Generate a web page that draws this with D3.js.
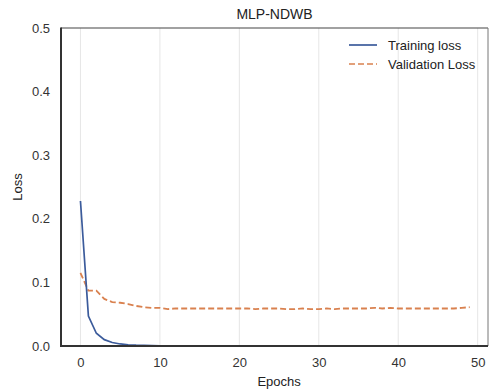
<!DOCTYPE html>
<html><head><meta charset="utf-8">
<script src="https://cdn.jsdelivr.net/npm/d3@7"></script>
<style>body{margin:0;background:#fff}svg{display:block}</style>
</head><body>
<svg id="c" width="490" height="391"></svg>
<script>
const epochs = d3.range(0, 50);
const trainingLoss = [0.228,0.047,0.020,0.010,0.0055,0.0032,0.0020,0.0013,0.0009,0.0006,0.0004,0.0003,0.0002,0.00015,0.0001,
  0.0001,0.0001,0.0001,0.0001,0.0001,0.0001,0.0001,0.0001,0.0001,0.0001,0.0001,0.0001,0.0001,0.0001,0.0001,
  0.0001,0.0001,0.0001,0.0001,0.0001,0.0001,0.0001,0.0001,0.0001,0.0001,0.0001,0.0001,0.0001,0.0001,0.0001,
  0.0001,0.0001,0.0001,0.0001,0.0001];
const validationLoss = [0.115,0.087,0.087,0.074,0.069,0.068,0.066,0.063,0.061,0.060,0.060,0.058,0.059,0.059,0.059,
  0.059,0.059,0.059,0.059,0.059,0.059,0.059,0.058,0.059,0.059,0.059,0.058,0.058,0.059,0.058,
  0.058,0.059,0.058,0.059,0.059,0.059,0.059,0.060,0.059,0.060,0.059,0.059,0.059,0.059,0.059,
  0.059,0.059,0.059,0.060,0.061];
const xTicks = [0,10,20,30,40,50];
const yTicks = [0.0,0.1,0.2,0.3,0.4,0.5];
const seriesNames = ["Training loss","Validation Loss"];
const seriesColors = ["#3b5b9b","#d9814f"];

const svg = d3.select("#c");
const L=61, R=488, T=28, B=346;
const x = d3.scaleLinear().domain([-2.45, 51.3]).range([L, R]);
const y = d3.scaleLinear().domain([0, 0.5]).range([B, T]);
const font = "Liberation Sans, Arial, sans-serif";

svg.append("g").selectAll("line").data(xTicks).join("line")
  .attr("x1", d=>x(d)).attr("x2", d=>x(d)).attr("y1", T).attr("y2", B)
  .attr("stroke", "#e6e6e6").attr("stroke-width", 1);

const line = d3.line().x((d,i)=>x(epochs[i])).y(d=>y(d));
svg.append("path").datum(validationLoss).attr("d", line)
  .attr("fill","none").attr("stroke", seriesColors[1]).attr("stroke-width", 1.8)
  .attr("stroke-dasharray","6,3");
svg.append("path").datum(trainingLoss).attr("d", line)
  .attr("fill","none").attr("stroke", seriesColors[0]).attr("stroke-width", 1.7);

svg.append("line").attr("x1",L).attr("x2",R).attr("y1",T).attr("y2",T).attr("stroke","#444").attr("stroke-width",1.2);
svg.append("line").attr("x1",R).attr("x2",R).attr("y1",T).attr("y2",B).attr("stroke","#777").attr("stroke-width",1);
svg.append("line").attr("x1",L).attr("x2",L).attr("y1",T-0.6).attr("y2",B+1).attr("stroke","#333").attr("stroke-width",2);
svg.append("line").attr("x1",L-1).attr("x2",R).attr("y1",B).attr("y2",B).attr("stroke","#333").attr("stroke-width",2);

const xa = svg.append("g").attr("transform",`translate(0,${B})`)
  .call(d3.axisBottom(x).tickValues(xTicks).tickSize(0).tickPadding(12).tickFormat(d3.format("d")));
xa.select(".domain").remove();
xa.selectAll("text").attr("font-family",font).attr("font-size",13).attr("fill","#333");
const ya = svg.append("g").attr("transform",`translate(${L},0)`)
  .call(d3.axisLeft(y).tickValues(yTicks).tickSize(0).tickPadding(11).tickFormat(d3.format(".1f")));
ya.select(".domain").remove();
ya.selectAll("text").attr("font-family",font).attr("font-size",13).attr("fill","#333");

svg.append("text").attr("x",(L+R)/2).attr("y",19).attr("text-anchor","middle")
  .attr("font-family",font).attr("font-size",14).attr("fill","#222").text("MLP-NDWB");
svg.append("text").attr("x",x(25)).attr("y",386).attr("text-anchor","middle")
  .attr("font-family",font).attr("font-size",13).attr("fill","#222").text("Epochs");
svg.append("text").attr("transform",`translate(22,${(T+B)/2}) rotate(-90)`).attr("text-anchor","middle")
  .attr("font-family",font).attr("font-size",13).attr("fill","#222").text("Loss");

const lg = svg.append("g");
seriesNames.forEach((n,i)=>{
  const yy = 45 + i*19;
  lg.append("line").attr("x1",349).attr("x2",377).attr("y1",yy).attr("y2",yy)
    .attr("stroke",seriesColors[i]).attr("stroke-width",1.7)
    .attr("stroke-dasharray", i===1 ? "6,3" : null);
  lg.append("text").attr("x",388).attr("y",yy+5).attr("font-family",font).attr("font-size",13)
    .attr("fill","#222").text(n);
});
</script>
</body></html>
